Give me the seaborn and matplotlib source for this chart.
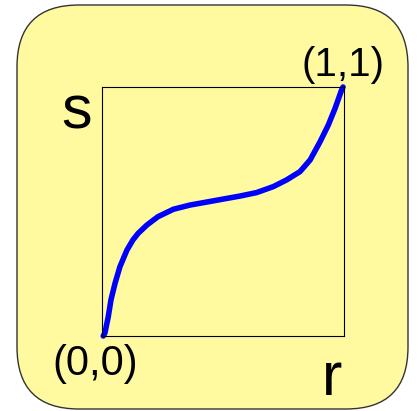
import matplotlib
matplotlib.use("Agg")
import matplotlib.pyplot as plt
import seaborn as sns
import pandas as pd
from matplotlib.patches import FancyBboxPatch

# curve (r -> s)
r_vals = [0.005, 0.012, 0.026, 0.037, 0.054, 0.074, 0.103, 0.128, 0.149,
          0.186, 0.231, 0.295, 0.364, 0.433, 0.501, 0.570, 0.639, 0.708,
          0.763, 0.818, 0.860, 0.901, 0.935, 0.963, 0.990, 0.996]
s_vals = [0.0, 0.012, 0.078, 0.145, 0.212, 0.278, 0.345, 0.386, 0.412,
          0.446, 0.479, 0.509, 0.526, 0.538, 0.550, 0.562, 0.576, 0.600,
          0.627, 0.660, 0.707, 0.780, 0.847, 0.914, 0.988, 1.0]

YELLOW = "#FFFAA0"

sns.set_theme(style="white")
plt.rcParams["font.family"] = ["Liberation Sans", "DejaVu Sans"]

fig = plt.figure(figsize=(4.17, 4.11), dpi=100)
fig.patch.set_facecolor("white")

box = FancyBboxPatch((0.17, 0.02), 3.91, 4.04,
                     boxstyle="round,pad=0,rounding_size=0.62",
                     transform=fig.dpi_scale_trans,
                     facecolor=YELLOW, edgecolor="#333333", linewidth=1.0,
                     zorder=-10)
fig.patches.append(box)

ax = fig.add_axes([102 / 417, 1 - 336 / 411, 242 / 417, 249 / 411])
ax.set_zorder(5)
ax.set_facecolor(YELLOW)

data = pd.DataFrame({"r": r_vals, "s": s_vals})
sns.lineplot(data=data, x="r", y="s", ax=ax, color="#0000FF",
             linewidth=4, sort=False, clip_on=False)

ax.set_xlim(0, 1)
ax.set_ylim(0, 1)
ax.set_xticks([])
ax.set_yticks([])
ax.set_xlabel("")
ax.set_ylabel("")
for sp in ax.spines.values():
    sp.set_color("black")
    sp.set_linewidth(0.8)

def px(x, y):
    return x / 417, 1 - y / 411

fig.text(*px(77, 128), "s", fontsize=44, ha="center", va="baseline", color="black")
fig.text(*px(332, 395), "r", fontsize=44, ha="center", va="baseline", color="black")
fig.text(*px(343, 76), "(1,1)", fontsize=29, ha="center", va="baseline", color="black")
fig.text(*px(95, 375), "(0,0)", fontsize=30, ha="center", va="baseline", color="black")

fig.savefig("out.png", dpi=100)
